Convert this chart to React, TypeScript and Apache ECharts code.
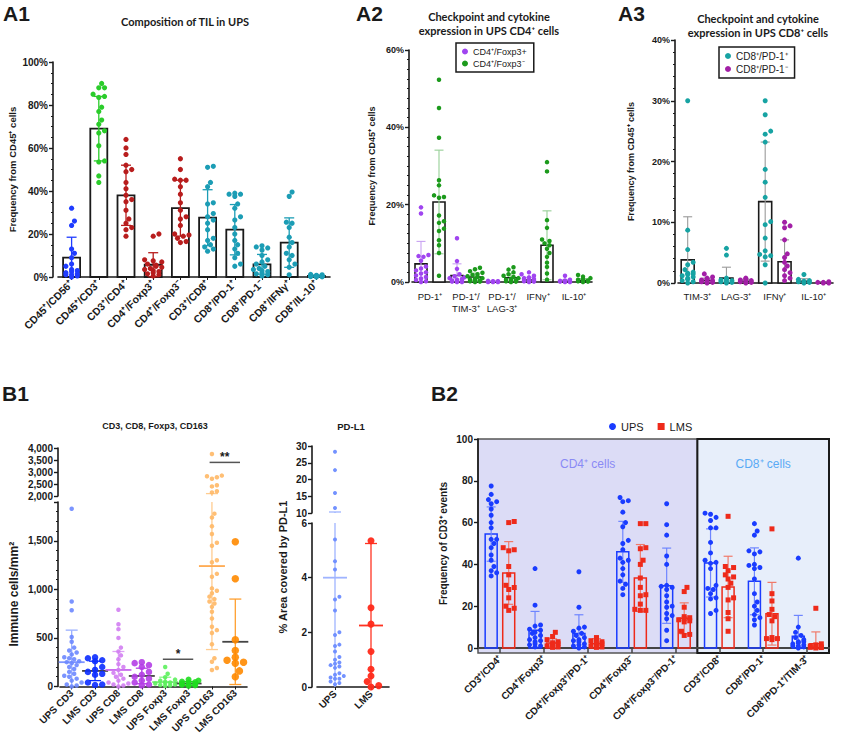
import { useEffect, useRef } from 'react';
import * as echarts from 'echarts';

const SANS = '"Liberation Sans", Arial, Helvetica, sans-serif';
const TITLE_FONT = 'Lato, "Open Sans", sans-serif';
const INK = '#1a1a1a';

// ================= A1 =================
const A1_CATEGORIES = ['CD45⁺/CD56⁺', 'CD45⁺/CD3⁺', 'CD3⁺/CD4⁺', 'CD4⁺/Foxp3⁺', 'CD4⁺/Foxp3⁻', 'CD3⁺/CD8⁺', 'CD8⁺/PD-1⁺', 'CD8⁺/PD-1⁻', 'CD8⁺/IFNγ⁺', 'CD8⁺/IL-10⁺'];
const A1_MEANS = [9, 69, 38, 5.7, 32, 27.6, 22, 5.9, 16, 0.5];
const A1_SD = [9.5, 15, 14, 5.6, 13, 13, 11.7, 4.6, 11.5, 0.4];
const A1_POINTS = [
  [32, 26, 24, 13, 11, 9, 6, 5, 3.5, 3, 2.5, 2, 1.5, 1, 1, 0.5, 0],
  [90, 88, 88, 85, 84, 83.5, 79, 77, 73, 71, 68, 67, 61, 54, 53.5, 47, 44],
  [64, 60, 57, 52, 50, 49, 44, 41, 38, 36, 35, 31, 27, 25, 23, 22, 19],
  [20, 19, 8, 7.5, 7, 6, 5.5, 5, 4.5, 4, 3.5, 3, 2.5, 2, 1.5, 1, 0.5],
  [55, 50, 45.5, 45, 45, 42, 38.5, 34.5, 31, 28, 27, 24, 20, 19.5, 19, 18, 16.5, 16],
  [51.5, 51, 44, 42, 34.5, 34, 29.5, 28, 26.5, 25, 22, 18, 17, 15, 14, 13, 12],
  [39, 38.5, 38.5, 37.5, 34, 32, 28, 26.5, 23, 20, 17, 15, 13, 11, 9, 6, 5],
  [14.5, 14, 13.5, 12.5, 10, 8, 7, 6, 5, 4, 3.5, 3, 2.5, 2, 1.5, 1, 0.5],
  [39.5, 37.5, 25.5, 25, 23, 18.5, 16, 14, 11, 10, 8, 6, 4.5, 1],
  [1.2, 1, 0.8, 0.7, 0.5, 0.5, 0.4, 0.3, 0.2, 0.2, 0.1, 0],
];

// ================= A2 =================
const A2_CATEGORIES = ['PD-1⁺', 'PD-1⁺/\nTIM-3⁺', 'PD-1⁺/\nLAG-3⁺', 'IFNγ⁺', 'IL-10⁺'];
const A2_SERIES_NAMES = ['CD4⁺/Foxp3+', 'CD4⁺/Foxp3⁻'];
const A2_POS_MEANS = [4.7, 1.7, 0.1, 0.5, 0.2];
const A2_POS_SD = [5.8, 3, 0.1, 0.7, 0.4];
const A2_POS_POINTS = [
  [19.3, 17.7, 7, 6.7, 6.5, 5.5, 4, 3.5, 3, 2.5, 2.2, 1.7, 1.3, 0.9, 0.5, 0.2, 0],
  [11.3, 5.4, 3.4, 2, 1.5, 1.2, 1, 0.8, 0.6, 0.4, 0.3, 0.2, 0.1, 0, 0],
  [0.3, 0.2, 0.2, 0.1, 0.1, 0.1, 0, 0, 0],
  [2.5, 2, 1.6, 1.2, 1, 0.8, 0.6, 0.5, 0.4, 0.3, 0.2, 0.1, 0],
  [1.6, 0.6, 0.4, 0.3, 0.2, 0.1, 0.1, 0, 0],
];
const A2_NEG_MEANS = [20.7, 1.3, 1.1, 9.5, 0.4];
const A2_NEG_SD = [13.4, 1, 1.1, 8.9, 0.5];
const A2_NEG_POINTS = [
  [52.3, 45, 37.3, 26.3, 25, 22.4, 22, 21.8, 17.2, 15.7, 15.3, 13.8, 13.2, 10.8, 9.5, 7.5, 1.6],
  [3.7, 3.3, 2.8, 2.4, 2, 1.8, 1.5, 1.3, 1, 0.8, 0.6, 0.4, 0.3, 0.2, 0.1, 0],
  [3.8, 3.2, 2.5, 2, 1.6, 1.3, 1, 0.8, 0.6, 0.4, 0.3, 0.2, 0.1, 0],
  [31, 28.6, 16, 14, 11, 10.6, 10, 9.5, 8.6, 7.5, 6.5, 5, 3.9, 2.2, 0.6],
  [1.8, 1.4, 1, 0.8, 0.6, 0.4, 0.3, 0.2, 0.1, 0],
];

// ================= A3 =================
const A3_CATEGORIES = ['TIM-3⁺', 'LAG-3⁺', 'IFNγ⁺', 'IL-10⁺'];
const A3_SERIES_NAMES = ['CD8⁺/PD-1⁺', 'CD8⁺/PD-1⁻'];
const A3_POS_MEANS = [3.8, 0.8, 13.4, 0.3];
const A3_POS_SD = [7.1, 1.8, 9.8, 0.4];
const A3_POS_POINTS = [
  [30, 8.7, 5.5, 3.4, 3, 2.2, 1.8, 1.6, 1.5, 1.4, 1.2, 1, 0.8, 0.6, 0.4, 0.2, 0],
  [5.7, 4.6, 0.8, 0.6, 0.5, 0.4, 0.3, 0.2, 0.1, 0],
  [30, 27.7, 25, 24.5, 23.2, 18.7, 16.6, 14.1, 10.1, 9.6, 7.4, 5.3, 4.7, 4.5, 4.3, 3, 0],
  [1.4, 0.6, 0.4, 0.3, 0.2, 0.1, 0],
];
const A3_NEG_MEANS = [0.4, 0.3, 3.5, 0.1];
const A3_NEG_SD = [0.4, 0.3, 3.6, 0.1];
const A3_NEG_POINTS = [
  [1.5, 1, 0.8, 0.6, 0.5, 0.4, 0.3, 0.2, 0.1, 0],
  [0.8, 0.7, 0.5, 0.4, 0.3, 0.2, 0.1, 0],
  [10, 9.4, 9.1, 7.1, 4.8, 4.2, 3.4, 2.8, 2.2, 1.7, 1.2, 0.8, 0.4],
  [0.2, 0.1, 0.1, 0, 0],
];

// ================= B1 (left) =================
const B1_CATEGORIES = ['UPS CD3', 'LMS CD3', 'UPS CD8', 'LMS CD8', 'UPS Foxp3', 'LMS Foxp3', 'UPS CD163', 'LMS CD163'];
const B1_MEANS = [250, 160, 170, 108, 45, 30, 1240, 460];
const B1_SD = [330, 100, 190, 80, 50, 20, 860, 440];
const B1_POINTS = [
  [1830, 875, 785, 510, 460, 400, 370, 350, 330, 300, 290, 280, 260, 250, 240, 220, 200, 180, 150, 130, 110, 100, 80, 60, 40, 20, 10, 0],
  [300, 290, 270, 260, 200, 170, 150, 130, 120, 40, 20, 15],
  [790, 640, 590, 500, 400, 360, 320, 280, 230, 200, 170, 140, 120, 100, 80, 60, 40, 30, 20, 10, 0],
  [250, 240, 220, 200, 150, 120, 100, 80, 60, 40, 20, 10],
  [200, 130, 95, 70, 60, 50, 40, 35, 30, 20, 15, 10, 5],
  [70, 60, 50, 45, 40, 30, 25, 20, 15, 10, 5],
  [3750, 2850, 2820, 2780, 2720, 2450, 2400, 2200, 2150, 1780, 1740, 1650, 1570, 1480, 1450, 1300, 1280, 1160, 1130, 1010, 985, 960, 925, 900, 875, 855, 820, 770, 700, 615, 580, 550, 435, 290, 255, 190, 170],
  [1490, 1110, 480, 370, 300, 270, 250, 240, 160, 100],
];
const B1_SIG_FROM = [4, 6];
const B1_SIG_TO = [5, 7];
const B1_SIG_Y = [280, 3400];
const B1_SIG_LABELS = ['*', '**'];

// ================= B1 (PD-L1) =================
const PDL1_CATEGORIES = ['UPS', 'LMS'];
const PDL1_MEANS = [4.0, 2.25];
const PDL1_SD = [6.3, 3.0];
const PDL1_POINTS = [
  [28.3, 22.8, 16, 11.5, 5.4, 4.6, 4.3, 3.3, 3.2, 2.8, 2.0, 1.9, 1.55, 1.5, 1.3, 1.1, 1.0, 0.9, 0.85, 0.8, 0.75, 0.7, 0.5, 0.45, 0.4, 0.35, 0.3, 0.3, 0.2, 0.15, 0.1],
  [5.35, 2.9, 2.3, 1.3, 0.65, 0.4, 0.2, 0.05, 0],
];

// ================= B2 =================
const B2_CATEGORIES = ['CD3⁺/CD4⁺', 'CD4⁺/Foxp3⁺', 'CD4⁺/Foxp3⁺/PD-1⁺', 'CD4⁺/Foxp3⁻', 'CD4⁺/Foxp3⁻/PD-1⁺', 'CD3⁺/CD8⁺', 'CD8⁺/PD-1⁺', 'CD8⁺/PD-1⁺/TIM-3⁺'];
const B2_UPS_MEANS = [54.5, 8.5, 6.9, 46, 29.8, 40.7, 31.9, 5.6];
const B2_UPS_SD = [13, 9, 9, 14.6, 18, 16.3, 16, 10];
const B2_UPS_POINTS = [
  [77.5, 73.5, 71, 70, 69, 66.5, 63.5, 60, 57.5, 52, 52, 50, 48, 44.5, 42, 39, 37, 36, 34.5],
  [38, 20.5, 11, 10.5, 9, 8.5, 7.5, 7, 6, 5, 4, 3.5, 3, 2, 1.5, 1, 0.5],
  [36.5, 19.5, 10, 9.5, 8, 7, 6, 5, 4, 3.5, 3, 2, 1.5, 1, 0.5, 0],
  [72, 70.5, 70, 65, 60, 58, 51.5, 50, 47, 43, 42, 41, 38, 35, 32, 30.5, 28.5, 25.5],
  [69, 59, 54, 44, 40, 30, 29.5, 29, 28, 25, 22, 20, 19.5, 16.5, 15.5, 14, 8.5, 3.5],
  [64.5, 64, 62.5, 61, 57.5, 57.5, 50.5, 45.5, 42, 41, 40.5, 38, 30, 28.5, 28, 26, 24, 23.5, 18, 16.5],
  [59.5, 56, 54, 46.5, 46, 45, 40, 39.5, 38.5, 38, 33, 26, 22, 20, 18, 16, 14.5, 13.5, 11],
  [43, 10, 7.5, 6, 5, 4, 3, 3, 2.5, 2, 1.5, 1, 1, 0.5, 0],
];
const B2_LMS_MEANS = [35.9, 2.4, 2, 33.5, 14.2, 29.2, 16.4, 2];
const B2_LMS_SD = [15, 2, 2.5, 16, 7.4, 14.7, 15, 5.7];
const B2_LMS_POINTS = [
  [60.5, 60, 48, 47, 46.5, 39, 35, 30, 29, 28, 24, 20, 19, 18],
  [7.5, 5.5, 4, 3, 2.5, 2, 1.5, 1, 0.5, 0.3],
  [5, 4.5, 3.5, 3, 2.5, 2, 1.5, 1, 0.5, 0.3],
  [59.5, 59.5, 48, 47.5, 42, 40, 33.5, 29, 25.5, 25, 21, 18.5, 18, 18],
  [29, 27, 19.5, 15, 14.5, 14, 13.5, 13, 12.5, 8, 6.5, 6],
  [63, 39, 38.5, 37, 35, 34, 33, 31, 29, 24, 23, 17, 14, 8],
  [57, 26, 22.5, 18.5, 16, 15, 13, 5, 4.5, 4.5, 4],
  [19, 2, 1.5, 1, 0.5, 0.5, 0.3, 0.2, 0],
];
const B2_PANEL_NAMES = ['CD4⁺ cells', 'CD8⁺ cells'];
const B2_PANEL_FROM = [0, 5];
const B2_PANEL_TO = [4, 7];

// ================= styles =================
const A1_COLORS = ['#1f3cff', '#2bcc2b', '#b81d1d', '#b81d1d', '#b81d1d', '#1c9db5', '#1c9db5', '#1c9db5', '#1c9db5', '#1c9db5'];
const A2_COLORS = ['#a045f0', '#1c9a1c'];
const A2_ERR = ['#c8a2f2', '#96cf96'];
const A3_COLORS = ['#17a3a3', '#a21fa6'];
const B1_COLORS = ['#6d88ff', '#0b2cff', '#d27ef2', '#b43ee6', '#5cf05c', '#1fdc1f', '#ffb866', '#ff8a00'];
const B1_ERR_COLORS = ['#9aafff', '#0b2cff', '#dfa3f5', '#b43ee6', '#8af58a', '#1fdc1f', '#ffcc90', '#ffa030'];
const B1_MEAN_COLORS = ['#7e96ff', '#444', '#c866ee', '#444', '#7ee87e', '#444', '#ffaa50', '#444'];
const B1_SIZES = [4.5, 6.5, 4.5, 6.5, 4.5, 6, 4.5, 7.5];
const PDL1_COLORS = ['#6b8cff', '#ff2a1a'];
const PDL1_ERR = ['#9fb4ff', '#ff3322'];
const PDL1_SIZES = [4, 7];
const B2_COLORS = ['#1a3cff', '#ee2a1a'];
const B2_ERR = ['#6f86ff', '#f07a6a'];
const B2_PANEL_FILL = ['#dcdcf6', '#e7eefa'];
const B2_PANEL_STROKE = ['#555', '#1a1a1a'];
const B2_PANEL_TEXT = ['#8a8af5', '#5aaaf5'];

// ================= helpers =================
function clamp(v: number, lo: number, hi: number) { return Math.max(lo, Math.min(hi, v)); }
function pick(c: any, i: number) { return Array.isArray(c) ? c[i] : c; }

function swarm(ys: number[], d: number, maxHalf: number): number[] {
  const n = ys.length;
  const order = ys.map((_, i) => i).sort((a, b) => ys[b] - ys[a]);
  const xs = new Array(n).fill(0);
  const placed: number[] = [];
  const step = d * 0.55;
  for (const i of order) {
    let bestX = 0, bestHits = Infinity;
    for (let k = 0; k < 60; k++) {
      const c = k === 0 ? 0 : (k % 2 === 1 ? 1 : -1) * Math.ceil(k / 2) * step;
      if (Math.abs(c) > maxHalf) break;
      let hits = 0;
      for (const j of placed) {
        const dx = xs[j] - c, dy = ys[j] - ys[i];
        if (dx * dx + dy * dy < d * d * 0.8) hits++;
      }
      if (hits === 0) { bestX = c; bestHits = 0; break; }
      if (hits < bestHits) { bestHits = hits; bestX = c; }
    }
    xs[i] = bestX;
    placed.push(i);
  }
  return xs;
}

function barData(means: number[], sds: number[]) { return means.map((m, i) => [i, m, sds[i]]); }
function dotData(groups: number[][]) {
  const out: number[][] = [];
  groups.forEach((vals, c) => vals.forEach((v, k) => out.push([c, v, k])));
  return out;
}

function makeBarRender(o: any) {
  return (_params: any, api: any) => {
    const cat = api.value(0) as number;
    const mean = api.value(1) as number;
    const sd = api.value(2) as number;
    const band = api.size([1, 0])[0];
    const base = api.coord([cat, o.yMin]);
    const cx = base[0] + o.offset * band;
    const children: any[] = [];
    if (o.showBar && mean > o.yMin) {
      const ym = api.coord([cat, clamp(mean, o.yMin, o.yMax)])[1];
      children.push({ type: 'rect', shape: { x: cx - o.width / 2, y: ym, width: o.width, height: base[1] - ym }, style: { fill: o.fill, stroke: pick(o.stroke, cat), lineWidth: o.barLine } });
    }
    const lo = mean - sd, hi = mean + sd;
    const cl = clamp(lo, o.yMin, o.yMax), ch = clamp(hi, o.yMin, o.yMax);
    const ec = pick(o.errColor, cat);
    if (ch > cl) {
      const yl = api.coord([cat, cl])[1], yh = api.coord([cat, ch])[1];
      children.push({ type: 'line', shape: { x1: cx, y1: yl, x2: cx, y2: yh }, style: { stroke: ec, lineWidth: o.errWidth } });
      if (hi <= o.yMax) children.push({ type: 'line', shape: { x1: cx - o.capW / 2, y1: yh, x2: cx + o.capW / 2, y2: yh }, style: { stroke: ec, lineWidth: o.errWidth } });
      if (lo >= o.yMin && lo > 0) children.push({ type: 'line', shape: { x1: cx - o.capW / 2, y1: yl, x2: cx + o.capW / 2, y2: yl }, style: { stroke: ec, lineWidth: o.errWidth } });
    }
    if (o.meanColor && mean >= o.yMin && mean <= o.yMax) {
      const ym = api.coord([cat, mean])[1];
      children.push({ type: 'line', shape: { x1: cx - o.meanW / 2, y1: ym, x2: cx + o.meanW / 2, y2: ym }, style: { stroke: pick(o.meanColor, cat), lineWidth: o.meanLine } });
    }
    return { type: 'group', children };
  };
}

function makeDotRender(groups: number[][], o: any) {
  return (_params: any, api: any) => {
    const cat = api.value(0) as number;
    const k = api.value(2) as number;
    const vals = groups[cat];
    const v = vals[k];
    if (v < o.yMin || v > o.yMax) return null;
    const band = api.size([1, 0])[0];
    const cx = api.coord([cat, o.yMin])[0] + o.offset * band;
    const size = pick(o.size, cat);
    const ys = vals.map((val) => api.coord([cat, val])[1]);
    const xs = swarm(ys, size, o.spread);
    const x = cx + xs[k], y = ys[k];
    const color = pick(o.color, cat);
    const opacity = o.opacity == null ? 1 : pick(o.opacity, cat);
    if (o.symbol === 'rect') {
      return { type: 'rect', shape: { x: x - size / 2, y: y - size / 2, width: size, height: size }, style: { fill: color, opacity } };
    }
    return { type: 'circle', shape: { cx: x, cy: y, r: size / 2 }, style: { fill: color, opacity } };
  };
}

function makeSigRender(yMin: number, yMax: number) {
  return (params: any, api: any) => {
    const from = api.value(0) as number, to = api.value(1) as number, y = api.value(2) as number;
    if (y < yMin || y > yMax) return null;
    const band = api.size([1, 0])[0];
    const p1 = api.coord([from, y]), p2 = api.coord([to, y]);
    const x1 = p1[0] - band * 0.1, x2 = p2[0] + band * 0.2;
    return {
      type: 'group', children: [
        { type: 'line', shape: { x1, y1: p1[1], x2, y2: p1[1] }, style: { stroke: '#555', lineWidth: 1.5 } },
        { type: 'text', style: { text: B1_SIG_LABELS[params.dataIndex], x: (x1 + x2) / 2, y: p1[1] + 1, textAlign: 'center', textVerticalAlign: 'bottom', font: `bold 12px ${SANS}`, fill: INK } },
      ],
    };
  };
}

function panelRender(params: any, api: any) {
  const i = params.dataIndex;
  const from = api.value(0) as number, to = api.value(1) as number;
  const band = api.size([1, 0])[0];
  const x1 = api.coord([from, 100])[0] - band / 2;
  const x2 = api.coord([to, 100])[0] + band / 2;
  const yTop = api.coord([from, 100])[1];
  const yBot = api.coord([from, 0])[1] + 5;
  return {
    type: 'group', children: [
      { type: 'rect', shape: { x: x1, y: yTop, width: x2 - x1, height: yBot - yTop }, style: { fill: B2_PANEL_FILL[i], stroke: B2_PANEL_STROKE[i], lineWidth: i === 0 ? 1.5 : 2 } },
      { type: 'text', style: { text: B2_PANEL_NAMES[i], x: (x1 + x2) / 2, y: yTop + 25, textAlign: 'center', textVerticalAlign: 'middle', font: `12px ${SANS}`, fill: B2_PANEL_TEXT[i] } },
    ],
  };
}

const AXLINE = { show: true, lineStyle: { color: INK, width: 1.6 } };
const TICK = { show: true, length: 4, lineStyle: { color: INK, width: 1.4 } };

function yAxis(grid: number, min: number, max: number, interval: number, extra: any = {}) {
  return {
    type: 'value', gridIndex: grid, min, max, interval,
    axisLine: AXLINE, axisTick: TICK, splitLine: { show: false },
    axisLabel: { color: INK, fontWeight: 'bold', fontSize: 10, fontFamily: SANS, margin: 5 },
    nameTextStyle: { color: INK, fontWeight: 'bold', fontFamily: SANS },
    ...extra,
  };
}

function catAxis(grid: number, data: string[], extra: any = {}) {
  return {
    type: 'category', gridIndex: grid, data,
    axisLine: AXLINE, axisTick: { show: false }, splitLine: { show: false },
    axisLabel: { color: INK, fontSize: 9.5, fontFamily: SANS, interval: 0 },
    ...extra,
  };
}

function txt(text: string, x: number, y: number, font: string, extra: any = {}) {
  return { type: 'text', x, y, silent: true, style: { text, font, fill: INK, textAlign: 'left', textVerticalAlign: 'top', ...extra } };
}

function buildOption() {
  const commaFmt = (step: number) => (v: number) => (Math.abs(v % step) < 1e-9 ? v.toLocaleString('en-US') : '');
  const pct = (v: number) => `${v}%`;

  const series: any[] = [];
  const custom = (s: any) => series.push({ type: 'custom', silent: true, encode: { x: 0, y: 1 }, ...s });

  // A1
  custom({ xAxisIndex: 0, yAxisIndex: 0, z: 2, data: barData(A1_MEANS, A1_SD), renderItem: makeBarRender({ offset: 0, width: 17, showBar: true, fill: '#fff', stroke: INK, barLine: 1.8, errColor: A1_COLORS, errWidth: 1.3, capW: 10, yMin: 0, yMax: 100 }) });
  custom({ xAxisIndex: 0, yAxisIndex: 0, z: 4, data: dotData(A1_POINTS), renderItem: makeDotRender(A1_POINTS, { offset: 0, size: 5.2, color: A1_COLORS, spread: 11, yMin: 0, yMax: 100 }) });

  // A2
  custom({ xAxisIndex: 1, yAxisIndex: 1, z: 2, data: barData(A2_POS_MEANS, A2_POS_SD), renderItem: makeBarRender({ offset: -0.25, width: 12, showBar: true, fill: '#fff', stroke: INK, barLine: 1.6, errColor: A2_ERR[0], errWidth: 1.1, capW: 9, yMin: 0, yMax: 60 }) });
  custom({ xAxisIndex: 1, yAxisIndex: 1, z: 2, data: barData(A2_NEG_MEANS, A2_NEG_SD), renderItem: makeBarRender({ offset: 0.25, width: 12, showBar: true, fill: '#fff', stroke: INK, barLine: 1.6, errColor: A2_ERR[1], errWidth: 1.1, capW: 9, yMin: 0, yMax: 60 }) });
  custom({ name: A2_SERIES_NAMES[0], itemStyle: { color: A2_COLORS[0] }, xAxisIndex: 1, yAxisIndex: 1, z: 4, data: dotData(A2_POS_POINTS), renderItem: makeDotRender(A2_POS_POINTS, { offset: -0.25, size: 4.5, color: A2_COLORS[0], spread: 8, yMin: 0, yMax: 60 }) });
  custom({ name: A2_SERIES_NAMES[1], itemStyle: { color: A2_COLORS[1] }, xAxisIndex: 1, yAxisIndex: 1, z: 4, data: dotData(A2_NEG_POINTS), renderItem: makeDotRender(A2_NEG_POINTS, { offset: 0.25, size: 4.5, color: A2_COLORS[1], spread: 8, yMin: 0, yMax: 60 }) });

  // A3
  custom({ xAxisIndex: 2, yAxisIndex: 2, z: 2, data: barData(A3_POS_MEANS, A3_POS_SD), renderItem: makeBarRender({ offset: -0.25, width: 13, showBar: true, fill: '#fff', stroke: INK, barLine: 1.6, errColor: '#9a9a9a', errWidth: 1.1, capW: 9, yMin: 0, yMax: 40 }) });
  custom({ xAxisIndex: 2, yAxisIndex: 2, z: 2, data: barData(A3_NEG_MEANS, A3_NEG_SD), renderItem: makeBarRender({ offset: 0.25, width: 13, showBar: true, fill: '#fff', stroke: INK, barLine: 1.6, errColor: '#9a9a9a', errWidth: 1.1, capW: 9, yMin: 0, yMax: 40 }) });
  custom({ name: A3_SERIES_NAMES[0], itemStyle: { color: A3_COLORS[0] }, xAxisIndex: 2, yAxisIndex: 2, z: 4, data: dotData(A3_POS_POINTS), renderItem: makeDotRender(A3_POS_POINTS, { offset: -0.25, size: 5, color: A3_COLORS[0], spread: 8, yMin: 0, yMax: 40 }) });
  custom({ name: A3_SERIES_NAMES[1], itemStyle: { color: A3_COLORS[1] }, xAxisIndex: 2, yAxisIndex: 2, z: 4, data: dotData(A3_NEG_POINTS), renderItem: makeDotRender(A3_NEG_POINTS, { offset: 0.25, size: 5, color: A3_COLORS[1], spread: 8, yMin: 0, yMax: 40 }) });

  // B1 left (upper grid 3, lower grid 4)
  const b1Ranges = [[3, 2000, 4000], [4, 0, 1900]];
  for (const [g, lo, hi] of b1Ranges) {
    custom({ xAxisIndex: g, yAxisIndex: g, z: 2, data: barData(B1_MEANS, B1_SD), renderItem: makeBarRender({ offset: 0, width: 0, showBar: false, errColor: B1_ERR_COLORS, errWidth: 1.3, capW: 12, yMin: lo, yMax: hi, meanColor: B1_MEAN_COLORS, meanW: 26, meanLine: 1.8 }) });
    custom({ xAxisIndex: g, yAxisIndex: g, z: 4, data: dotData(B1_POINTS), renderItem: makeDotRender(B1_POINTS, { offset: 0, size: B1_SIZES, color: B1_COLORS, opacity: 0.9, spread: 10, yMin: lo, yMax: hi }) });
    custom({ xAxisIndex: g, yAxisIndex: g, z: 5, data: B1_SIG_FROM.map((f, i) => [f, B1_SIG_TO[i], B1_SIG_Y[i]]), renderItem: makeSigRender(lo, hi) });
  }

  // PD-L1 (upper grid 5, lower grid 6)
  const pdRanges = [[5, 10, 30], [6, 0, 6]];
  for (const [g, lo, hi] of pdRanges) {
    custom({ xAxisIndex: g, yAxisIndex: g, z: 2, data: barData(PDL1_MEANS, PDL1_SD), renderItem: makeBarRender({ offset: 0, width: 0, showBar: false, errColor: PDL1_ERR, errWidth: 1.3, capW: 12, yMin: lo, yMax: hi, meanColor: PDL1_ERR, meanW: 24, meanLine: 1.8 }) });
    custom({ xAxisIndex: g, yAxisIndex: g, z: 4, data: dotData(PDL1_POINTS), renderItem: makeDotRender(PDL1_POINTS, { offset: 0, size: PDL1_SIZES, color: PDL1_COLORS, opacity: 0.95, spread: 13, yMin: lo, yMax: hi }) });
  }

  // B2
  custom({ xAxisIndex: 7, yAxisIndex: 7, z: 0, data: B2_PANEL_FROM.map((f, i) => [f, B2_PANEL_TO[i]]), renderItem: panelRender });
  custom({ xAxisIndex: 7, yAxisIndex: 7, z: 2, data: barData(B2_UPS_MEANS, B2_UPS_SD), renderItem: makeBarRender({ offset: -0.2, width: 12, showBar: true, fill: 'none', stroke: B2_COLORS[0], barLine: 1.5, errColor: B2_ERR[0], errWidth: 1.2, capW: 9, yMin: 0, yMax: 100 }) });
  custom({ xAxisIndex: 7, yAxisIndex: 7, z: 2, data: barData(B2_LMS_MEANS, B2_LMS_SD), renderItem: makeBarRender({ offset: 0.2, width: 12, showBar: true, fill: 'none', stroke: B2_COLORS[1], barLine: 1.5, errColor: B2_ERR[1], errWidth: 1.2, capW: 9, yMin: 0, yMax: 100 }) });
  custom({ name: 'UPS', itemStyle: { color: B2_COLORS[0] }, xAxisIndex: 7, yAxisIndex: 7, z: 4, data: dotData(B2_UPS_POINTS), renderItem: makeDotRender(B2_UPS_POINTS, { offset: -0.2, size: 5, color: B2_COLORS[0], spread: 7, yMin: 0, yMax: 100 }) });
  custom({ name: 'LMS', itemStyle: { color: B2_COLORS[1] }, xAxisIndex: 7, yAxisIndex: 7, z: 4, data: dotData(B2_LMS_POINTS), renderItem: makeDotRender(B2_LMS_POINTS, { offset: 0.2, size: 5, color: B2_COLORS[1], symbol: 'rect', spread: 7, yMin: 0, yMax: 100 }) });

  const legendBase = { orient: 'vertical', itemWidth: 6, itemHeight: 6, itemGap: 3, padding: [4, 7, 4, 6], borderColor: INK, borderWidth: 1.5, selectedMode: false, textStyle: { fontSize: 10, fontFamily: SANS, color: INK } };

  return {
    animation: false,
    backgroundColor: '#fff',
    grid: [
      { left: 58, top: 62, width: 272, height: 215 },
      { left: 412, top: 50, width: 180, height: 232 },
      { left: 678, top: 40, width: 155, height: 243 },
      { left: 60, top: 448, width: 187, height: 48 },
      { left: 60, top: 502, width: 187, height: 185 },
      { left: 317, top: 446, width: 72, height: 67 },
      { left: 317, top: 523, width: 72, height: 164 },
      { left: 478, top: 439, width: 351, height: 209 },
    ],
    xAxis: [
      catAxis(0, A1_CATEGORIES, { axisTick: { show: true, alignWithLabel: true, length: 3, lineStyle: { color: INK } }, axisLabel: { color: INK, fontSize: 10.5, fontWeight: 'bold', fontFamily: SANS, interval: 0, rotate: 45, margin: 5 } }),
      catAxis(1, A2_CATEGORIES, { axisLabel: { color: INK, fontSize: 9.5, fontFamily: SANS, interval: 0, margin: 8, lineHeight: 12 } }),
      catAxis(2, A3_CATEGORIES, { axisLabel: { color: INK, fontSize: 9.5, fontFamily: SANS, interval: 0, margin: 8 } }),
      catAxis(3, B1_CATEGORIES, { show: false }),
      catAxis(4, B1_CATEGORIES, { axisTick: { show: true, alignWithLabel: true, length: 3, lineStyle: { color: INK } }, axisLabel: { color: INK, fontSize: 10, fontWeight: 'bold', fontFamily: SANS, interval: 0, rotate: 45, margin: 5 } }),
      catAxis(5, PDL1_CATEGORIES, { show: false }),
      catAxis(6, PDL1_CATEGORIES, { axisTick: { show: true, alignWithLabel: true, length: 3, lineStyle: { color: INK } }, axisLabel: { color: INK, fontSize: 10, fontWeight: 'bold', fontFamily: SANS, interval: 0, rotate: 45, margin: 5 } }),
      catAxis(7, B2_CATEGORIES, { axisLine: { show: true, lineStyle: { color: '#444', width: 2 } }, axisTick: { show: true, alignWithLabel: true, length: 5, lineStyle: { color: '#444', width: 1.5 } }, axisLabel: { color: INK, fontSize: 10, fontWeight: 'bold', fontFamily: SANS, interval: 0, rotate: 45, margin: 9 } }),
    ],
    yAxis: [
      yAxis(0, 0, 100, 20, { offset: 5, minorTick: { show: true, splitNumber: 4, length: 2, lineStyle: { color: INK } }, axisLabel: { color: INK, fontWeight: 'bold', fontSize: 10, fontFamily: SANS, formatter: pct, margin: 5 }, name: 'Frequency from CD45⁺ cells', nameLocation: 'middle', nameGap: 36, nameTextStyle: { color: INK, fontWeight: 'bold', fontSize: 9.5, fontFamily: SANS } }),
      yAxis(1, 0, 60, 20, { offset: 3, minorTick: { show: true, splitNumber: 8, length: 2, lineStyle: { color: INK } }, axisLabel: { color: INK, fontWeight: 'bold', fontSize: 9, fontFamily: SANS, formatter: pct, margin: 5 }, name: 'Frequency from CD45⁺ cells', nameLocation: 'middle', nameGap: 33, nameTextStyle: { color: INK, fontWeight: 'bold', fontSize: 9, fontFamily: SANS } }),
      yAxis(2, 0, 40, 10, { offset: 3, minorTick: { show: true, splitNumber: 5, length: 2, lineStyle: { color: INK } }, axisLabel: { color: INK, fontWeight: 'bold', fontSize: 9, fontFamily: SANS, formatter: pct, margin: 5 }, name: 'Frequency from CD45⁺ cells', nameLocation: 'middle', nameGap: 40, nameTextStyle: { color: INK, fontWeight: 'bold', fontSize: 9, fontFamily: SANS } }),
      yAxis(3, 2000, 4000, 500, { offset: 2, axisLabel: { color: INK, fontWeight: 'bold', fontSize: 10, fontFamily: SANS, formatter: commaFmt(500), margin: 5 } }),
      yAxis(4, 0, 1900, 500, { offset: 2, minorTick: { show: true, splitNumber: 5, length: 2, lineStyle: { color: INK } }, axisLabel: { color: INK, fontWeight: 'bold', fontSize: 10, fontFamily: SANS, formatter: commaFmt(500), margin: 5, showMaxLabel: false }, name: 'Immune cells/mm²', nameLocation: 'middle', nameGap: 38, nameTextStyle: { color: INK, fontWeight: 'bold', fontSize: 12, fontFamily: SANS } }),
      yAxis(5, 10, 30, 5, { offset: 5, axisLabel: { color: INK, fontWeight: 'bold', fontSize: 10, fontFamily: SANS, margin: 5 } }),
      yAxis(6, 0, 6, 2, { offset: 5, axisLabel: { color: INK, fontWeight: 'bold', fontSize: 10, fontFamily: SANS, margin: 5 } }),
      yAxis(7, 0, 100, 20, { axisLabel: { color: INK, fontWeight: 'bold', fontSize: 10, fontFamily: SANS, margin: 5 }, name: 'Frequency of CD3⁺ events', nameLocation: 'middle', nameGap: 30, nameTextStyle: { color: INK, fontWeight: 'bold', fontSize: 10, fontFamily: SANS } }),
    ],
    legend: [
      { ...legendBase, left: 456, top: 43, textStyle: { fontSize: 9, fontFamily: SANS, color: INK }, data: A2_SERIES_NAMES.map((n) => ({ name: n, icon: 'circle' })) },
      { ...legendBase, left: 719, top: 47, data: A3_SERIES_NAMES.map((n) => ({ name: n, icon: 'circle' })) },
      { orient: 'horizontal', left: 604, top: 416, itemWidth: 7, itemHeight: 7, itemGap: 14, selectedMode: false, textStyle: { fontSize: 11, fontFamily: SANS, color: INK }, data: [{ name: 'UPS', icon: 'circle' }, { name: 'LMS', icon: 'rect' }] },
    ],
    graphic: [
      txt('A1', 3, 3, `bold 21px ${SANS}`),
      txt('Composition of TIL in UPS', 185, 16, `bold 11px ${TITLE_FONT}`, { textAlign: 'center' }),
      txt('A2', 356, 3, `bold 21px ${SANS}`),
      txt('Checkpoint and cytokine\nexpression in UPS CD4⁺ cells', 489, 9, `bold 11px ${TITLE_FONT}`, { textAlign: 'center', lineHeight: 14 }),
      txt('A3', 618, 3, `bold 21px ${SANS}`),
      txt('Checkpoint and cytokine\nexpression in UPS CD8⁺ cells', 758, 11, `bold 11px ${TITLE_FONT}`, { textAlign: 'center', lineHeight: 14 }),
      txt('B1', 2, 383, `bold 21px ${SANS}`),
      txt('CD3, CD8, Foxp3, CD163', 155, 421, `bold 9px ${SANS}`, { textAlign: 'center' }),
      txt('PD-L1', 351, 421, `bold 9.5px ${SANS}`, { textAlign: 'center' }),
      txt('B2', 431, 383, `bold 21px ${SANS}`),
      { type: 'text', x: 283, y: 567, rotation: Math.PI / 2, silent: true, style: { text: '% Area covered by PD-L1', font: `bold 11px ${SANS}`, fill: INK, textAlign: 'center', textVerticalAlign: 'middle' } },
    ],
    series,
  };
}

export default function App() {
  const ref = useRef<HTMLDivElement>(null);
  useEffect(() => {
    if (!ref.current) return;
    const chart = echarts.init(ref.current, null, { renderer: 'svg' });
    chart.setOption(buildOption() as any);
    return () => chart.dispose();
  }, []);
  return <div ref={ref} style={{ position: 'absolute', left: 0, top: 0, width: 843, height: 736, background: '#fff' }} />;
}
